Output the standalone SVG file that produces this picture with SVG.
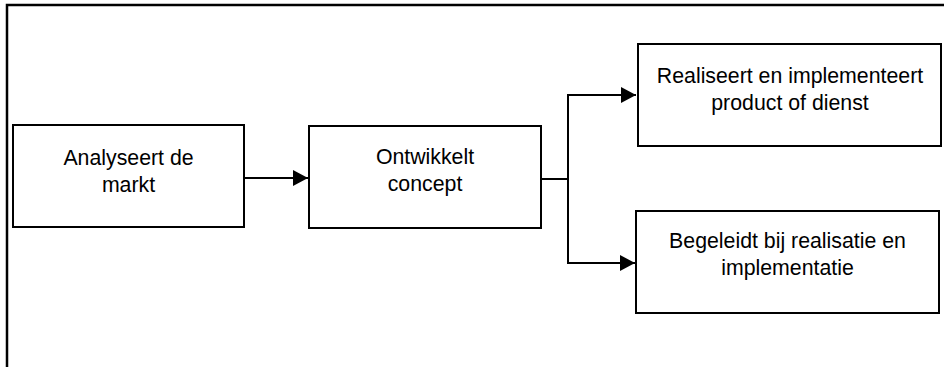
<svg xmlns="http://www.w3.org/2000/svg" width="944" height="367" viewBox="0 0 944 367">
<style>
.box{fill:#fff;stroke:#000;stroke-width:2}
.t{font-family:"Liberation Sans",Arial,sans-serif;font-size:21.3px;fill:#000;text-anchor:middle}
.c{fill:none;stroke:#000;stroke-width:2}
</style>
<defs>
<marker id="ah" markerUnits="userSpaceOnUse" markerWidth="16" markerHeight="16" refX="15" refY="8" orient="auto">
<path d="M0,0 L15,8 L0,16 Z" fill="#000"/>
</marker>
</defs>
<rect width="944" height="367" fill="#fff"/>
<path d="M7,367 V5 H944" fill="none" stroke="#000" stroke-width="2.5"/>
<g id="connectors">
<path class="c" d="M244,178 H308" marker-end="url(#ah)"/>
<path class="c" d="M541,179 H568 V95 H636" marker-end="url(#ah)"/>
<path class="c" d="M568,179 V263 H635" marker-end="url(#ah)"/>
</g>
<g id="n1">
<rect class="box" x="13" y="125" width="231" height="102"/>
<text class="t" x="128.5" y="165">Analyseert de</text>
<text class="t" x="128.5" y="192">markt</text>
</g>
<g id="n2">
<rect class="box" x="309" y="126" width="232" height="102"/>
<text class="t" x="425" y="164">Ontwikkelt</text>
<text class="t" x="425" y="191">concept</text>
</g>
<g id="n3">
<rect class="box" x="638" y="44" width="303" height="102"/>
<text class="t" x="790" y="83">Realiseert en implementeert</text>
<text class="t" x="790" y="110">product of dienst</text>
</g>
<g id="n4">
<rect class="box" x="636" y="211" width="303" height="102"/>
<text class="t" x="787.5" y="248">Begeleidt bij realisatie en</text>
<text class="t" x="787.5" y="275">implementatie</text>
</g>
</svg>
